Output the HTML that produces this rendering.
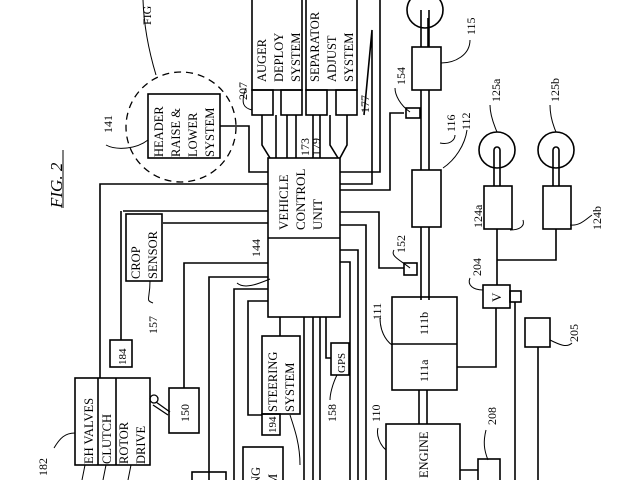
<!DOCTYPE html>
<html><head><style>
html,body{margin:0;padding:0;background:#fff;}
svg{display:block;}
text{font-family:"Liberation Serif",serif;fill:#000;}
</style></head><body>
<svg width="640" height="480" viewBox="0 0 640 480" xmlns="http://www.w3.org/2000/svg">
<g fill="none" stroke="#000" stroke-width="1.6">
<!-- FIG.2 label -->
<line x1="63" y1="150" x2="63" y2="208" stroke-width="1"/>
<!-- dashed circle -->
<circle cx="181" cy="127" r="55" stroke-dasharray="7,5" stroke-width="1.3"/>
<path d="M143 0 C144 30,150 55,156 75" stroke-width="1"/>
<!-- header box -->
<rect x="148" y="94" width="72" height="64"/>
<path d="M220 126 H249 V172 H268"/>
<!-- auger deploy -->
<rect x="252" y="-2" width="50" height="92"/>
<rect x="252" y="90" width="21" height="25"/><rect x="281" y="90" width="21" height="25"/>
<rect x="306" y="-2" width="51" height="92"/>
<rect x="306" y="90" width="21" height="25"/><rect x="336" y="90" width="21" height="25"/>
<path d="M262 115 V145 L270 158"/><path d="M276 115 V158"/><path d="M287 115 V158"/><path d="M296 115 V158"/>
<path d="M313 115 V158"/><path d="M320 115 V158"/><path d="M330 115 V145 L338 158"/><path d="M347 115 V145 L340 158"/>
<!-- VCU -->
<rect x="268" y="158" width="72" height="159"/>
<line x1="268" y1="238" x2="340" y2="238"/>
<!-- right side lines -->
<path d="M340 172 H380 V0"/>
<path d="M340 184 H372 V30 L364 115"/>
<path d="M340 212 H379 V268 H404"/>
<path d="M340 225 H366 V480"/>
<path d="M340 250 H358 V480"/>
<path d="M340 262 H350 V480"/>
<path d="M404 113 H390 V190 H340" />
<!-- left side lines -->
<path d="M268 184 H100 V378"/>
<path d="M268 211 H123"/>
<path d="M268 223 H163"/>
<path d="M268 263 H184 V388"/>
<path d="M268 277 H209 V480"/>
<path d="M268 289 H234 V480"/>
<path d="M268 301 H248 V415 H262"/>
<path d="M280 317 V336"/>
<path d="M304 317 V480"/><path d="M313 317 V480"/><path d="M320 317 V480"/>
<path d="M331 358 H326 V317"/>
<!-- crop sensor -->
<rect x="126" y="214" width="36" height="67"/>
<path d="M121 211 V340"/>
<rect x="110" y="340" width="22" height="27"/>
<!-- EH valves -->
<rect x="75" y="378" width="75" height="87"/>
<line x1="98" y1="378" x2="98" y2="465"/><line x1="116" y1="378" x2="116" y2="465"/>
<circle cx="154" cy="399" r="4" stroke-width="1.3"/>
<path d="M156 402 L170 412 M153 405 L168 415" stroke-width="1.3"/>
<path d="M85 465 L82 480 M106 465 L103 480 M131 465 L128 480" stroke-width="1"/>
<rect x="169" y="388" width="30" height="45"/>
<!-- steering -->
<rect x="262" y="336" width="38" height="78"/>
<rect x="262" y="414" width="18" height="21"/>
<rect x="243" y="447" width="40" height="40"/>
<rect x="192" y="472" width="34" height="14"/>
<!-- GPS -->
<rect x="331" y="343" width="18" height="32"/>
<!-- shaft -->
<line x1="421" y1="10" x2="421" y2="300"/><line x1="429" y1="10" x2="429" y2="300"/>
<line x1="419" y1="390" x2="419" y2="424"/><line x1="427" y1="390" x2="427" y2="424"/>
<circle cx="425" cy="10" r="18"/>
<rect x="412" y="47" width="29" height="43" fill="#fff"/>
<rect x="406" y="108" width="14" height="10" fill="#fff"/>
<rect x="412" y="170" width="29" height="57" fill="#fff"/>
<rect x="404" y="263" width="13" height="12" fill="#fff"/>
<path d="M428 18 V47" />
<!-- 125a/b -->
<circle cx="497" cy="150" r="18"/><circle cx="556" cy="150" r="18"/>
<path d="M494 150 a3 3 0 0 1 6 0 V186 M494 150 V186"/>
<path d="M553 150 a3 3 0 0 1 6 0 V186 M553 150 V186"/>
<rect x="484" y="186" width="28" height="43" fill="#fff"/>
<rect x="543" y="186" width="28" height="43" fill="#fff"/>
<path d="M497 229 V285 M497 260 H556 V229"/>
<!-- 111 -->
<rect x="392" y="297" width="65" height="93"/>
<line x1="392" y1="344" x2="457" y2="344"/>
<path d="M457 367 H496 V308"/>
<rect x="483" y="285" width="27" height="23"/>
<rect x="510" y="291" width="11" height="11"/>
<path d="M515 302 V480"/>
<rect x="525" y="318" width="25" height="29"/>
<path d="M538 347 V480"/>
<!-- engine -->
<rect x="386" y="424" width="74" height="60"/>
<rect x="478" y="459" width="22" height="24"/>
<path d="M460 470 H478"/>
</g>
<!-- leader lines -->
<g fill="none" stroke="#000" stroke-width="1">
<path d="M106 145 C115 150,135 150,148 140"/>
<path d="M246 88 C240 104,244 108,252 110"/>
<path d="M441 63 C455 63,470 55,470 40"/>
<path d="M410 112 C400 105,395 95,395 88"/>
<path d="M440 143 C450 145,455 140,455 135"/>
<path d="M443 168 C455 160,465 145,467 130"/>
<path d="M510 230 C520 230,525 226,523 220"/>
<path d="M570 225 C580 226,585 220,592 215"/>
<path d="M497 132 C494 125,490 115,490 105"/>
<path d="M556 132 C553 125,550 115,550 105"/>
<path d="M410 268 C400 260,390 256,394 250"/>
<path d="M392 345 C385 340,380 330,380 318"/>
<path d="M386 450 C380 445,376 435,378 428"/>
<path d="M483 290 C473 290,467 285,470 278"/>
<path d="M550 340 C560 345,567 348,572 343"/>
<path d="M488 460 C484 450,483 442,486 430"/>
<path d="M337 375 C332 385,330 395,330 400"/>
<path d="M270 279 C260 283,245 290,237 283"/>
<path d="M150 281 C150 300,145 300,153 303"/>
<path d="M75 433 C65 433,60 438,54 448"/>
<path d="M290 415 C295 430,300 445,300 465"/>
</g>
<!-- texts rotated -90 -->
<g font-size="14">
<text transform="translate(62,208) rotate(-90)" font-style="italic" font-size="17">FIG. 2</text>
<text transform="translate(151,25) rotate(-90)" font-size="12">FIG</text>
<text transform="translate(163,157) rotate(-90)" font-size="12.5">HEADER</text>
<text transform="translate(180,157) rotate(-90)" font-size="12.5">RAISE &amp;</text>
<text transform="translate(197,157) rotate(-90)" font-size="12.5">LOWER</text>
<text transform="translate(214,157) rotate(-90)" font-size="12.5">SYSTEM</text>
<text transform="translate(112,133) rotate(-90)" font-size="12">141</text>
<text transform="translate(247,100) rotate(-90)" font-size="12">207</text>
<text transform="translate(266,82) rotate(-90)" font-size="12.5">AUGER</text>
<text transform="translate(283,82) rotate(-90)" font-size="12.5">DEPLOY</text>
<text transform="translate(300,82) rotate(-90)" font-size="12.5">SYSTEM</text>
<text transform="translate(319,82) rotate(-90)" font-size="12.5">SEPARATOR</text>
<text transform="translate(336,82) rotate(-90)" font-size="12.5">ADJUST</text>
<text transform="translate(353,82) rotate(-90)" font-size="12.5">SYSTEM</text>
<text transform="translate(309,156) rotate(-90)" font-size="12">173</text>
<text transform="translate(320,156) rotate(-90)" font-size="12">179</text>
<text transform="translate(369,113) rotate(-90)" font-size="12">177</text>
<text transform="translate(288,230) rotate(-90)" font-size="13">VEHICLE</text>
<text transform="translate(305,230) rotate(-90)" font-size="13">CONTROL</text>
<text transform="translate(322,230) rotate(-90)" font-size="13">UNIT</text>
<text transform="translate(140,279) rotate(-90)" font-size="12.5">CROP</text>
<text transform="translate(157,279) rotate(-90)" font-size="12.5">SENSOR</text>
<text transform="translate(157,334) rotate(-90)" font-size="12">157</text>
<text transform="translate(260,257) rotate(-90)" font-size="12">144</text>
<text transform="translate(126,365) rotate(-90)" font-size="11">184</text>
<text transform="translate(47,476) rotate(-90)" font-size="12">182</text>
<text transform="translate(93,464) rotate(-90)" font-size="12.5">EH VALVES</text>
<text transform="translate(111,464) rotate(-90)" font-size="12.5">CLUTCH</text>
<text transform="translate(128,464) rotate(-90)" font-size="12.5">ROTOR</text>
<text transform="translate(145,464) rotate(-90)" font-size="12.5">DRIVE</text>
<text transform="translate(189,422) rotate(-90)" font-size="12">150</text>
<text transform="translate(277,412) rotate(-90)" font-size="12.5">STEERING</text>
<text transform="translate(294,412) rotate(-90)" font-size="12.5">SYSTEM</text>
<text transform="translate(276,433) rotate(-90)" font-size="11">194</text>
<text transform="translate(260,485) rotate(-90)" font-size="12.5">NG</text>
<text transform="translate(277,485) rotate(-90)" font-size="12.5">M</text>
<text transform="translate(345,373) rotate(-90)" font-size="11">GPS</text>
<text transform="translate(336,422) rotate(-90)" font-size="12">158</text>
<text transform="translate(381,320) rotate(-90)" font-size="12">111</text>
<text transform="translate(428,335) rotate(-90)" font-size="12">111b</text>
<text transform="translate(428,382) rotate(-90)" font-size="12">111a</text>
<text transform="translate(380,422) rotate(-90)" font-size="12">110</text>
<text transform="translate(428,478) rotate(-90)" font-size="12.5">ENGINE</text>
<text transform="translate(405,85) rotate(-90)" font-size="12">154</text>
<text transform="translate(405,253) rotate(-90)" font-size="12">152</text>
<text transform="translate(475,35) rotate(-90)" font-size="12">115</text>
<text transform="translate(455,132) rotate(-90)" font-size="12">116</text>
<text transform="translate(470,130) rotate(-90)" font-size="12">112</text>
<text transform="translate(500,102) rotate(-90)" font-size="12">125a</text>
<text transform="translate(559,102) rotate(-90)" font-size="12">125b</text>
<text transform="translate(482,228) rotate(-90)" font-size="12">124a</text>
<text transform="translate(601,230) rotate(-90)" font-size="12">124b</text>
<text transform="translate(481,276) rotate(-90)" font-size="12">204</text>
<text transform="translate(501,302) rotate(-90)" font-size="13">V</text>
<text transform="translate(578,342) rotate(-90)" font-size="12">205</text>
<text transform="translate(496,425) rotate(-90)" font-size="12">208</text>
</g>
</svg>
</body></html>
